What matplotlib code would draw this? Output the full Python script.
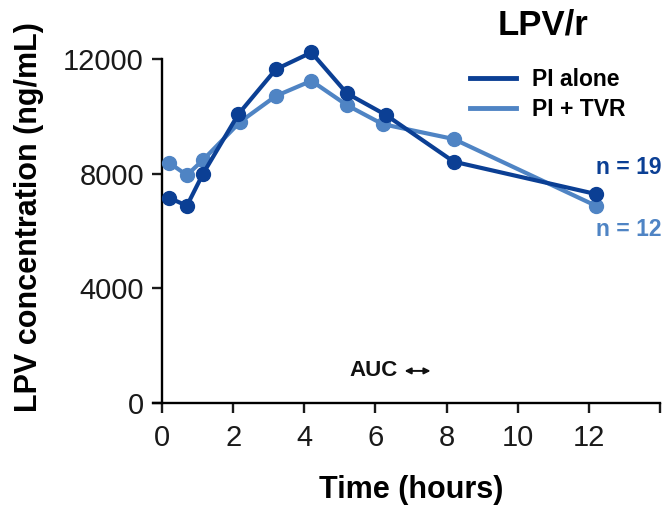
import matplotlib.pyplot as plt
from matplotlib.lines import Line2D

plt.rcParams['font.family'] = ['Liberation Sans', 'DejaVu Sans']

# values
time_alone = [0.2, 0.7, 1.15, 2.15, 3.2, 4.2, 5.2, 6.3, 8.2, 12.2]
conc_alone = [7160, 6880, 7990, 10080, 11640, 12230, 10800, 10045, 8420, 7290]
time_tvr = [0.2, 0.7, 1.15, 2.2, 3.2, 4.2, 5.2, 6.2, 8.2, 12.2]
conc_tvr = [8380, 7950, 8475, 9810, 10710, 11240, 10390, 9730, 9210, 6880]
xticks = [0, 2, 4, 6, 8, 10, 12, 14]
xtick_labels = ['0', '2', '4', '6', '8', '10', '12', '']
yticks = [0, 4000, 8000, 12000]

dark = '#0b3f94'
light = '#4f84c4'

fig = plt.figure(figsize=(6.68, 5.07), dpi=100)
ax = fig.add_axes([0.2425, 0.2051, 0.7455, 0.735])

ax.plot(time_tvr, conc_tvr, color=light, lw=3, marker='o', ms=10, clip_on=False, zorder=3)
ax.plot(time_alone, conc_alone, color=dark, lw=3, marker='o', ms=10, clip_on=False, zorder=4)

ax.set_xlim(0, 14)
ax.set_ylim(0, 13000)
for s in ['top', 'right']:
    ax.spines[s].set_visible(False)
ax.spines['left'].set_bounds(0, 12000)
ax.spines['bottom'].set_bounds(-0.25, 14)
for s in ['left', 'bottom']:
    ax.spines[s].set_linewidth(1.7)
ax.set_xticks(xticks)
ax.set_xticklabels(xtick_labels)
ax.set_yticks(yticks)
ax.tick_params(direction='out', length=7, width=1.7, labelsize=21, colors='#1a1a1a')
ax.tick_params(axis='x', pad=8)
ax.tick_params(axis='y', pad=6)

ax.set_xlabel('Time (hours)', fontsize=22, fontweight='bold', labelpad=17)
ax.set_ylabel('LPV concentration (ng/mL)', fontsize=22, fontweight='bold', labelpad=14)

fig.text(543 / 668, 1 - 25 / 507, 'LPV/r', fontsize=25, fontweight='bold', ha='center', va='center')

handles = [Line2D([], [], color=dark, lw=3.5), Line2D([], [], color=light, lw=3.5)]
fig.legend(handles, ['PI alone', 'PI + TVR'], loc='upper left',
           bbox_to_anchor=(470 / 668, 1 - 68 / 507), frameon=False,
           borderpad=0, borderaxespad=0, handlelength=2.0, handletextpad=0.7,
           labelspacing=0.3, prop={'weight': 'bold', 'size': 16.5})

ax.text(12.2, 8200, 'n = 19', color=dark, fontsize=16.5, fontweight='bold', ha='left', va='center')
ax.text(12.2, 6070, 'n = 12', color=light, fontsize=16.5, fontweight='bold', ha='left', va='center')

ax.text(6.63, 1150, 'AUC', fontsize=16, fontweight='bold', ha='right', va='center', color='#111111')
ax.annotate('', xy=(6.82, 1120), xytext=(7.55, 1120),
            arrowprops=dict(arrowstyle='<|-|>', color='#111111', lw=1.4,
                            mutation_scale=9, shrinkA=0, shrinkB=0))

fig.savefig('out.png', dpi=100)
